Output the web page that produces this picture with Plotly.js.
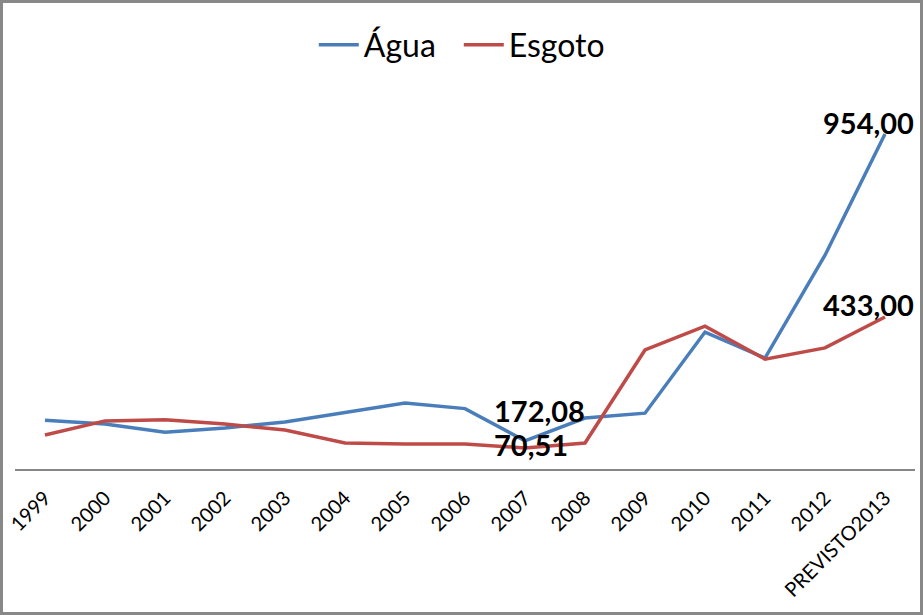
<!DOCTYPE html>
<html>
<head>
<meta charset="utf-8">
<script src="https://cdn.plot.ly/plotly-3.0.1.min.js"></script>
<style>
  body { margin: 0; background: #fff; }
  #chart { width: 923px; height: 615px; }
  #frame { position: absolute; left: 0; top: 0; width: 923px; height: 615px;
           box-sizing: border-box; border: 3px solid #888888; pointer-events: none; }
</style>
</head>
<body>
<div id="chart"></div>
<div id="frame"></div>
<script>
// categories and values
const anos = ['1999', '2000', '2001', '2002', '2003', '2004', '2005', '2006',
  '2007', '2008', '2009', '2010', '2011', '2012', 'PREVISTO2013'];
const agua = [139, 128, 105, 117, 134, 162, 188, 172, 80, 145, 159, 390, 316, 609, 954];
const esgoto = [97, 137, 140, 128, 111, 74, 71, 71, 60, 74, 339, 407, 313, 345, 433];
// data labels shown on the chart
const aguaRotulos = ['', '', '', '', '', '', '', '', '172,08', '', '', '', '', '', '954,00'];
const esgotoRotulos = ['', '', '', '', '', '', '', '', '70,51', '', '', '', '', '', '433,00'];

const fonte = 'Lato, "Open Sans", sans-serif';

const data = [
  { x: anos, y: agua, name: 'Água', type: 'scatter', mode: 'lines',
    line: {color: '#4A7EBB', width: 3.5}, hoverinfo: 'x+y' },
  { x: anos, y: esgoto, name: 'Esgoto', type: 'scatter', mode: 'lines',
    line: {color: '#BE4B48', width: 3.5}, hoverinfo: 'x+y' }
];

// label placement (pixel offsets from the point)
// x is the category index, a string like '2007' would be read as a number
function rotulos(valores, textos, acima) {
  let out = [];
  for (let i = 0; i < textos.length; i++) {
    if (textos[i] == '') { continue; }
    const ultimo = (i == textos.length - 1);
    out.push({
      x: i, y: valores[i], xref: 'x', yref: 'y',
      text: '<b>' + textos[i] + '</b>', showarrow: false,
      xanchor: ultimo ? 'right' : 'left',
      yanchor: 'middle',
      xshift: ultimo ? 31 : -33,
      yshift: ultimo ? 12 : (acima ? 30 : 3),
      font: {family: fonte, size: 29, color: '#000000'}
    });
  }
  return out;
}

const layout = {
  width: 923, height: 615,
  margin: {l: 15, r: 8, t: 100, b: 146},
  paper_bgcolor: '#ffffff', plot_bgcolor: '#ffffff',
  showlegend: true,
  legend: {orientation: 'h', x: 0.332, xanchor: 'left', y: 1.149, yanchor: 'middle',
    font: {family: fonte, size: 32, color: '#000000'}, itemwidth: 40,
    entrywidth: 90, entrywidthmode: 'pixels'},
  xaxis: {type: 'category', range: [-0.5, 14.5], showline: true, linecolor: '#868686',
    linewidth: 1.5, ticks: '', showgrid: false, zeroline: false, tickangle: -45,
    ticklabelstandoff: 8,
    automargin: false, tickfont: {family: fonte, size: 20, color: '#000000'}},
  yaxis: {range: [0, 1051], visible: false, showgrid: false, zeroline: false,
    fixedrange: true},
  annotations: rotulos(agua, aguaRotulos, true).concat(rotulos(esgoto, esgotoRotulos, false))
};

Plotly.newPlot('chart', data, layout, {displayModeBar: false, staticPlot: true});
</script>
</body>
</html>
